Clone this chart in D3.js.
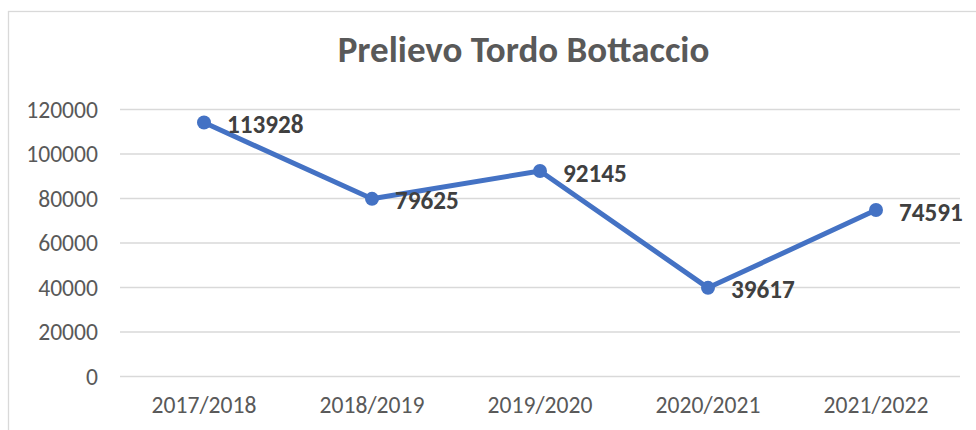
<!DOCTYPE html>
<html>
<head>
<meta charset="utf-8">
<script src="https://cdn.jsdelivr.net/npm/d3@7"></script>
<style>
  html, body { margin: 0; padding: 0; background: #fff; }
  svg { display: block; }
</style>
</head>
<body>
<svg id="chart" width="976" height="430"></svg>
<script>
const title = "Prelievo Tordo Bottaccio";
const categories = ["2017/2018", "2018/2019", "2019/2020", "2020/2021", "2021/2022"];
const values = [113928, 79625, 92145, 39617, 74591];
const yTicks = [0, 20000, 40000, 60000, 80000, 100000, 120000];

const font = "Calibri, Carlito, 'Open Sans', sans-serif";
const svg = d3.select("#chart");

// chart border
svg.append("rect")
  .attr("x", 8.5).attr("y", 11.5)
  .attr("width", 1200).attr("height", 800)
  .attr("fill", "none").attr("stroke", "#d9d9d9").attr("stroke-width", 1.3);

const plot = { left: 120, right: 960, top: 109, bottom: 376 };

const x = d3.scaleBand().domain(categories).range([plot.left, plot.right]);
const y = d3.scaleLinear().domain([0, 120000]).range([plot.bottom, plot.top]);

// gridlines + y labels
const yAxis = d3.axisLeft(y).tickValues(yTicks).tickSize(-(plot.right - plot.left)).tickPadding(22).tickFormat(d3.format("d"));
const gy = svg.append("g").attr("transform", `translate(${plot.left},0)`).call(yAxis);
gy.select(".domain").remove();
gy.selectAll(".tick line").attr("stroke", "#d9d9d9").attr("stroke-width", 1.4);
gy.selectAll(".tick text")
  .attr("fill", "#595959").style("font-family", font).style("font-size", "23.6px")
  .attr("dy", "0.34em");

// x labels
const xAxis = d3.axisBottom(x).tickSize(0).tickPadding(20);
const gx = svg.append("g").attr("transform", `translate(0,${plot.bottom})`).call(xAxis);
gx.select(".domain").remove();
gx.selectAll(".tick text")
  .attr("fill", "#595959").style("font-family", font).style("font-size", "23.6px");

// title
svg.append("text")
  .attr("x", 523.5).attr("y", 61.5)
  .attr("text-anchor", "middle")
  .attr("fill", "#595959")
  .style("font-family", font).style("font-weight", "bold").style("font-size", "37px")
  .text(title);

const cx = d => x(d.c) + x.bandwidth() / 2;
const data = categories.map((c, i) => ({ c, v: values[i] }));

// line
svg.append("path")
  .datum(data)
  .attr("fill", "none")
  .attr("stroke", "#4472C4")
  .attr("stroke-width", 5)
  .attr("stroke-linejoin", "round")
  .attr("d", d3.line().x(cx).y(d => y(d.v)));

// markers
svg.selectAll("circle.pt").data(data).enter().append("circle")
  .attr("class", "pt")
  .attr("cx", cx).attr("cy", d => y(d.v)).attr("r", 7)
  .attr("fill", "#4472C4");

// data labels
svg.selectAll("text.lbl").data(data).enter().append("text")
  .attr("class", "lbl")
  .attr("x", d => cx(d) + 23)
  .attr("y", d => y(d.v) + 2)
  .attr("dy", "0.34em")
  .attr("fill", "#404040")
  .style("font-family", font).style("font-weight", "bold").style("font-size", "25.2px")
  .text(d => d.v);
</script>
</body>
</html>
